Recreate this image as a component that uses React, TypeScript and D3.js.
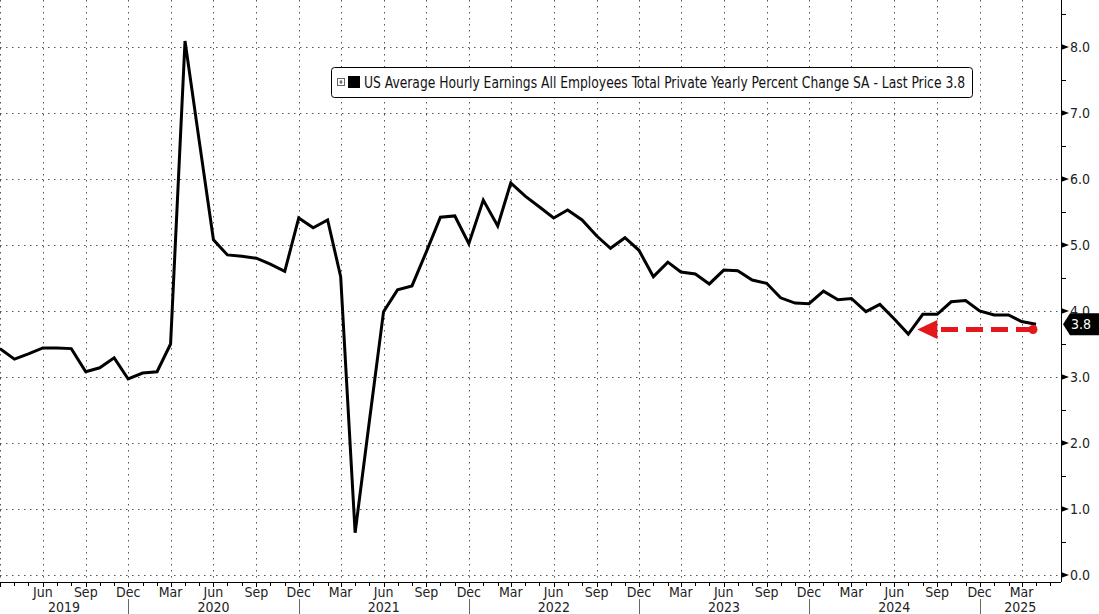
import React, { useEffect, useRef } from "react";
import * as d3 from "d3";

// monthly observations, Mar 2019 .. Apr 2025
const startYear = 2019;
const startMonth = 2; // March
const values: number[] = [
  // 2019 Mar..Dec
  3.43, 3.27, 3.35, 3.44, 3.44, 3.43, 3.08, 3.14, 3.29, 2.97,
  // 2020
  3.06, 3.08, 3.5, 8.09, 6.6, 5.08, 4.85, 4.83, 4.8, 4.71, 4.6, 5.41,
  // 2021
  5.26, 5.38, 4.52, 0.64, 2.3, 3.99, 4.32, 4.38, 4.9, 5.42, 5.44, 5.02,
  // 2022
  5.68, 5.29, 5.94, 5.74, 5.58, 5.41, 5.53, 5.38, 5.14, 4.95, 5.11, 4.92,
  // 2023
  4.52, 4.74, 4.59, 4.56, 4.41, 4.62, 4.61, 4.47, 4.42, 4.2, 4.12, 4.11,
  // 2024
  4.3, 4.17, 4.19, 3.99, 4.1, 3.88, 3.65, 3.95, 3.95, 4.14, 4.16, 4.0,
  // 2025
  3.94, 3.94, 3.84, 3.8,
];
const yTicks = [0, 1, 2, 3, 4, 5, 6, 7, 8];
const monthNames = ["Jan", "Feb", "Mar", "Apr", "May", "Jun", "Jul", "Aug", "Sep", "Oct", "Nov", "Dec"];
const years = [2019, 2020, 2021, 2022, 2023, 2024, 2025];
const legendText =
  "US Average Hourly Earnings All Employees Total Private Yearly Percent Change SA - Last Price 3.8";
const lastPrice = 3.8;
const arrowLevel = 3.72;
const arrowTo = new Date(2024, 6, 1); // Jul 2024 low

const W = 1099;
const H = 614;
const plotRight = 1061;
const axisY = 582;
const font = "'DejaVu Sans Condensed', 'Liberation Sans Narrow', 'DejaVu Sans', sans-serif";

const App: React.FC = () => {
  const svgRef = useRef<SVGSVGElement>(null);

  useEffect(() => {
    if (!svgRef.current) return;
    const svg = d3.select(svgRef.current);
    svg.selectAll("*").remove();

    const data = values.map((v, i) => ({
      date: new Date(startYear, startMonth + i, 1),
      v,
    }));
    const first = data[0].date;
    const last = data[data.length - 1].date;

    const x = d3.scaleTime().domain([first, last]).range([0, 1036]);
    const y = d3.scaleLinear().domain([0, 8]).range([575, 47]);
    const endDate = x.invert(plotRight);

    svg
      .append("defs")
      .append("clipPath")
      .attr("id", "plot")
      .append("rect")
      .attr("x", 0)
      .attr("y", 0)
      .attr("width", plotRight)
      .attr("height", axisY);

    const grid = svg.append("g").attr("stroke", "#555").attr("stroke-width", 1).attr("stroke-dasharray", "1.5,4.5");

    // horizontal gridlines
    grid
      .selectAll("line.h")
      .data(yTicks)
      .join("line")
      .attr("x1", 0)
      .attr("x2", plotRight)
      .attr("y1", (d) => Math.round(y(d)) + 0.5)
      .attr("y2", (d) => Math.round(y(d)) + 0.5);

    // quarterly vertical gridlines
    const months = d3.timeMonth.range(first, endDate);
    const quarters = months.filter((d) => d.getMonth() % 3 === 2);
    grid
      .selectAll("line.v")
      .data(quarters)
      .join("line")
      .attr("x1", (d) => Math.round(x(d)) + 0.5)
      .attr("x2", (d) => Math.round(x(d)) + 0.5)
      .attr("y1", 0)
      .attr("y2", axisY);

    // series line
    const line = d3
      .line<{ date: Date; v: number }>()
      .x((d) => x(d.date))
      .y((d) => y(d.v));
    svg
      .append("path")
      .datum(data)
      .attr("clip-path", "url(#plot)")
      .attr("d", line)
      .attr("fill", "none")
      .attr("stroke", "#000")
      .attr("stroke-width", 3)
      .attr("stroke-linejoin", "miter");

    // right axis
    const ax = svg.append("g");
    ax.append("line")
      .attr("x1", plotRight + 0.5)
      .attr("x2", plotRight + 0.5)
      .attr("y1", 0)
      .attr("y2", axisY)
      .attr("stroke", "#000");
    const halfTicks = d3.range(0.5, 9, 1);
    ax.selectAll("line.minor")
      .data(halfTicks)
      .join("line")
      .attr("x1", plotRight)
      .attr("x2", plotRight + 5)
      .attr("y1", (d) => Math.round(y(d)) + 0.5)
      .attr("y2", (d) => Math.round(y(d)) + 0.5)
      .attr("stroke", "#000");
    ax.selectAll("path.mark")
      .data(yTicks)
      .join("path")
      .attr("d", (d) => {
        const yy = y(d);
        return `M${plotRight},${yy - 3}L${plotRight + 8},${yy}L${plotRight},${yy + 3}Z`;
      })
      .attr("fill", "#000");
    ax.selectAll("text")
      .data(yTicks)
      .join("text")
      .attr("x", plotRight + 9)
      .attr("y", (d) => y(d))
      .attr("dy", "0.36em")
      .attr("font-family", font)
      .attr("font-size", 14)
      .attr("fill", "#222")
      .text((d) => d3.format(".1f")(d));

    // last price tag
    const ty = y(lastPrice);
    ax.append("path")
      .attr(
        "d",
        `M${plotRight + 2},${ty}L${plotRight + 9},${ty - 11}L${W},${ty - 11}L${W},${ty + 11}L${plotRight + 9},${ty + 11}Z`
      )
      .attr("fill", "#000");
    ax.append("text")
      .attr("x", plotRight + 10)
      .attr("y", ty)
      .attr("dy", "0.36em")
      .attr("font-family", font)
      .attr("font-size", 14)
      .attr("fill", "#fff")
      .text(d3.format(".1f")(lastPrice));

    // bottom axis
    const bx = svg.append("g");
    bx.append("line")
      .attr("x1", 0)
      .attr("x2", plotRight)
      .attr("y1", axisY + 0.5)
      .attr("y2", axisY + 0.5)
      .attr("stroke", "#000");
    bx.selectAll("line.tick")
      .data(months)
      .join("line")
      .attr("x1", (d) => Math.round(x(d)) + 0.5)
      .attr("x2", (d) => Math.round(x(d)) + 0.5)
      .attr("y1", axisY)
      .attr("y2", (d) => axisY + (d.getMonth() % 3 === 2 ? 5 : 4))
      .attr("stroke", "#000");
    bx.selectAll("text.month")
      .data(quarters.filter((d) => x(d) > 20))
      .join("text")
      .attr("x", (d) => x(d))
      .attr("y", 597)
      .attr("text-anchor", "middle")
      .attr("font-family", font)
      .attr("font-size", 14)
      .attr("fill", "#222")
      .text((d) => monthNames[d.getMonth()]);

    // year separators at Dec and year labels
    const decs = years.slice(0, -1).map((yr) => new Date(yr, 11, 1));
    bx.selectAll("line.sep")
      .data(decs)
      .join("line")
      .attr("x1", (d) => Math.round(x(d)) + 0.5)
      .attr("x2", (d) => Math.round(x(d)) + 0.5)
      .attr("y1", 599)
      .attr("y2", H)
      .attr("stroke", "#666");
    const bounds = [0, ...decs.map((d) => x(d)), plotRight];
    bx.selectAll("text.year")
      .data(years)
      .join("text")
      .attr("x", (_, i) => (bounds[i] + bounds[i + 1]) / 2)
      .attr("y", 612)
      .attr("text-anchor", "middle")
      .attr("font-family", font)
      .attr("font-size", 14)
      .attr("fill", "#222")
      .text((d) => String(d));

    // red arrow annotation
    const red = "#e3171c";
    const ay = y(arrowLevel);
    const ax0 = x(last) - 3;
    const tip = x(arrowTo) + 9;
    svg
      .append("line")
      .attr("x1", ax0)
      .attr("x2", tip + 19)
      .attr("y1", ay)
      .attr("y2", ay)
      .attr("stroke", red)
      .attr("stroke-width", 5)
      .attr("stroke-dasharray", "17,8");
    svg
      .append("path")
      .attr("d", `M${tip},${ay}L${tip + 20},${ay - 9.5}L${tip + 20},${ay + 9.5}Z`)
      .attr("fill", red);
    svg.append("circle").attr("cx", ax0).attr("cy", ay).attr("r", 4.5).attr("fill", red);

    // legend
    const lg = svg.append("g");
    lg.append("rect")
      .attr("x", 331.5)
      .attr("y", 67.5)
      .attr("width", 641)
      .attr("height", 30)
      .attr("rx", 3)
      .attr("fill", "#fff")
      .attr("stroke", "#000");
    lg.append("rect")
      .attr("x", 337.5)
      .attr("y", 78.5)
      .attr("width", 7)
      .attr("height", 7)
      .attr("fill", "#fff")
      .attr("stroke", "#666");
    lg.append("path")
      .attr("d", "M339.5,82h3M341,80v4")
      .attr("stroke", "#444");
    lg.append("rect").attr("x", 348).attr("y", 76).attr("width", 12).attr("height", 12).attr("fill", "#000");
    lg.append("text")
      .attr("x", 364)
      .attr("y", 88)
      .attr("font-family", font)
      .attr("font-size", 15)
      .attr("fill", "#111")
      .attr("textLength", 601)
      .attr("lengthAdjust", "spacingAndGlyphs")
      .text(legendText);
  }, []);

  return (
    <svg
      ref={svgRef}
      width={W}
      height={H}
      viewBox={`0 0 ${W} ${H}`}
      style={{ position: "absolute", left: 0, top: 0, background: "#fff" }}
    />
  );
};

export default App;
